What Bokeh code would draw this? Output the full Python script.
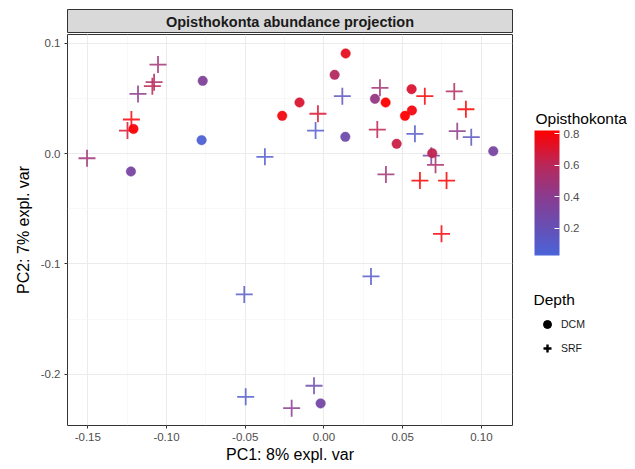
import numpy as np
from bokeh.plotting import figure
from bokeh.layouts import column, row
from bokeh.models import (ColumnDataSource, LinearColorMapper, ColorBar, FixedTicker,
                          Legend, LegendItem, Label, Range1d)
from bokeh.embed import file_html
from bokeh.resources import INLINE

# ---------------- data ----------------
dcm_pc1 = [0.0138, 0.0068, -0.0155, -0.0265, 0.0392, 0.0324, 0.0557, 0.0515, 0.0559,
           0.0462, 0.0688, 0.1076, 0.0136, -0.0770, -0.0777, -0.1210, -0.1226, -0.0021]
dcm_pc2 = [0.0906, 0.0713, 0.0462, 0.0341, 0.0462, 0.0495, 0.0583, 0.0341, 0.0390,
           0.0088, 0.0003, 0.0021, 0.0151, 0.0658, 0.0121, 0.0223, -0.0163, -0.2264]
dcm_abund = [0.74, 0.58, 0.70, 0.78, 0.82, 0.45, 0.70, 0.83, 0.78,
             0.65, 0.62, 0.30, 0.25, 0.35, 0.05, 0.80, 0.30, 0.28]

srf_pc1 = [-0.1054, -0.1079, -0.1090, -0.1181, -0.1223, -0.1248, -0.1505, -0.0375,
           0.0117, -0.0038, -0.0053, 0.0356, 0.0339, 0.0641, 0.0578, 0.0828, 0.0902,
           0.0847, 0.0936, 0.0682, 0.0709, 0.0394, 0.0610, 0.0779, 0.0747, 0.0299,
           -0.0506, -0.0497, -0.0063, -0.0205]
srf_pc2 = [0.0806, 0.0646, 0.0610, 0.0540, 0.0308, 0.0208, -0.0043, -0.0030,
           0.0519, 0.0360, 0.0208, 0.0595, 0.0217, 0.0519, 0.0178, 0.0562, 0.0401,
           0.0202, 0.0148, -0.0020, -0.0103, -0.0190, -0.0245, -0.0245, -0.0728, -0.1114,
           -0.1277, -0.2204, -0.2104, -0.2307]
srf_abund = [0.50, 0.55, 0.62, 0.42, 0.80, 0.70, 0.50, 0.08,
             0.15, 0.70, 0.08, 0.50, 0.62, 0.80, 0.10, 0.58, 0.82,
             0.42, 0.15, 0.30, 0.55, 0.50, 0.82, 0.82, 0.80, 0.10,
             0.10, 0.08, 0.25, 0.40]

x_ticks = [-0.15, -0.10, -0.05, 0.00, 0.05, 0.10]
x_tick_labels = ["-0.15", "-0.10", "-0.05", "0.00", "0.05", "0.10"]
y_ticks = [-0.2, -0.1, 0.0, 0.1]
y_tick_labels = ["-0.2", "-0.1", "0.0", "0.1"]
cbar_ticks = [0.2, 0.4, 0.6, 0.8]
abund_low, abund_high = 0.027, 0.82

# colour gradient stops (value -> colour)
grad_values = [0.027, 0.2, 0.4, 0.6, 0.82]
grad_colors = ["#4a64d9", "#6650b5", "#8a3c90", "#b8285a", "#ff0000"]

# ---------------- palette ----------------
def hex_to_rgb(h):
    h = h.lstrip("#")
    return [int(h[i:i + 2], 16) for i in (0, 2, 4)]

stops_rgb = np.array([hex_to_rgb(c) for c in grad_colors], dtype=float)
vals = np.linspace(abund_low, abund_high, 256)
palette = []
for v in vals:
    rgb = [np.interp(v, grad_values, stops_rgb[:, k]) for k in range(3)]
    palette.append("#%02x%02x%02x" % tuple(int(round(c)) for c in rgb))

mapper = LinearColorMapper(palette=palette, low=abund_low, high=abund_high)

FONT = "Liberation Sans"
LEFT_W = 513
SIDE_W = 114
TOTAL_H = 467

# ---------------- strip (facet-like title) ----------------
strip = figure(width=LEFT_W, height=33, x_range=Range1d(0, 1), y_range=Range1d(0, 1),
               output_backend="svg", toolbar_location=None,
               x_axis_location=None, y_axis_location=None,
               min_border_left=67, min_border_right=1, min_border_top=9, min_border_bottom=0)
strip.background_fill_color = "#d9d9d9"
strip.outline_line_color = "#333333"
strip.outline_line_width = 1
strip.xgrid.visible = False
strip.ygrid.visible = False
strip.add_layout(Label(x=0.5, y=0.5, text="Opisthokonta abundance projection",
                       text_align="center", text_baseline="middle",
                       text_font=FONT, text_font_size="14.5px", text_font_style="bold",
                       text_color="#1a1a1a"))

# ---------------- main figure ----------------
p = figure(width=LEFT_W, height=TOTAL_H - 33, x_range=(-0.1629, 0.1198),
           y_range=(-0.2464, 0.1078),
           output_backend="svg", toolbar_location=None,
           min_border_left=67, min_border_right=1, min_border_top=1, min_border_bottom=42)

p.outline_line_color = "#333333"
p.outline_line_width = 1
p.background_fill_color = "white"
p.border_fill_color = "white"

for ax in (p.xaxis[0], p.yaxis[0]):
    ax.axis_line_color = None
    ax.major_tick_line_color = "#333333"
    ax.major_tick_out = 3
    ax.major_tick_in = 0
    ax.minor_tick_line_color = None
    ax.major_label_text_font = FONT
    ax.major_label_text_font_size = "11.5px"
    ax.major_label_text_color = "#4d4d4d"
    ax.axis_label_text_font = FONT
    ax.axis_label_text_font_size = "16px"
    ax.axis_label_text_font_style = "normal"
    ax.axis_label_text_color = "black"

p.xaxis.ticker = FixedTicker(ticks=x_ticks,
                             minor_ticks=[t + 0.025 for t in [-0.175] + x_ticks])
p.yaxis.ticker = FixedTicker(ticks=y_ticks, minor_ticks=[t + 0.05 for t in [-0.3] + y_ticks])
p.xaxis.major_label_overrides = dict(zip(x_ticks, x_tick_labels))
p.yaxis.major_label_overrides = dict(zip(y_ticks, y_tick_labels))
p.xaxis.axis_label = "PC1: 8% expl. var"
p.yaxis.axis_label = "PC2: 7% expl. var"
p.xaxis.axis_label_standoff = 2
p.yaxis.axis_label_standoff = 6
p.xaxis.major_label_standoff = 3
p.yaxis.major_label_standoff = 3

for g in (p.xgrid[0], p.ygrid[0]):
    g.grid_line_color = "#ebebeb"
    g.grid_line_width = 1.1
    g.minor_grid_line_color = "#f4f4f4"
    g.minor_grid_line_width = 0.6

src_srf = ColumnDataSource(dict(x=srf_pc1, y=srf_pc2, a=srf_abund))
src_dcm = ColumnDataSource(dict(x=dcm_pc1, y=dcm_pc2, a=dcm_abund))

p.scatter("x", "y", source=src_srf, marker="cross", size=17, line_width=1.8,
          line_color={"field": "a", "transform": mapper}, line_alpha=0.85)
p.scatter("x", "y", source=src_dcm, marker="circle", size=9.5, line_width=0.5,
          fill_color={"field": "a", "transform": mapper},
          line_color={"field": "a", "transform": mapper}, fill_alpha=0.95, line_alpha=0.95)

# ---------------- side panel with the legends ----------------
side = figure(width=SIDE_W, height=TOTAL_H, x_range=Range1d(0, SIDE_W),
              y_range=Range1d(0, TOTAL_H),
              output_backend="svg", toolbar_location=None,
              x_axis_location=None, y_axis_location=None,
              min_border_left=0, min_border_right=0, min_border_top=0, min_border_bottom=0)
side.outline_line_color = None
side.xgrid.visible = False
side.ygrid.visible = False
side.background_fill_color = "white"
side.border_fill_color = "white"

r_dcm = side.scatter(x=[np.nan], y=[np.nan], marker="circle", size=10,
                     fill_color="black", line_color="black")
r_srf = side.scatter(x=[np.nan], y=[np.nan], marker="cross", size=17, line_width=2.4,
                     line_color="black")

legend = Legend(items=[LegendItem(label="DCM", renderers=[r_dcm]),
                       LegendItem(label="SRF", renderers=[r_srf])],
                location=(24, 109),
                label_text_font=FONT, label_text_font_size="10.5px", label_text_color="#1a1a1a",
                glyph_width=20, glyph_height=20, spacing=4, label_standoff=4,
                padding=0, margin=0, border_line_color=None, background_fill_color=None)
side.add_layout(legend, "center")

side.add_layout(Label(x=20, y=TOTAL_H - 299, text="Depth",
                      text_font=FONT, text_font_size="15.5px", text_color="black",
                      text_baseline="alphabetic", text_align="left"))

cbar = ColorBar(color_mapper=mapper, ticker=FixedTicker(ticks=cbar_ticks),
                location=(21, TOTAL_H - 255), width=25, height=125, padding=0, margin=0,
                major_label_text_font=FONT, major_label_text_font_size="11.5px",
                major_label_text_color="#4d4d4d", label_standoff=4,
                major_tick_line_color="white", major_tick_in=5, major_tick_out=0,
                bar_line_color=None, border_line_color=None, background_fill_color=None)
side.add_layout(cbar, "center")

side.add_layout(Label(x=22, y=TOTAL_H - 118, text="Opisthokonta",
                      text_font=FONT, text_font_size="15.5px", text_color="black",
                      text_baseline="alphabetic", text_align="left"))

layout = row(column(strip, p, spacing=0), side, spacing=0)
open("out.html", "w").write(file_html(layout, INLINE))
